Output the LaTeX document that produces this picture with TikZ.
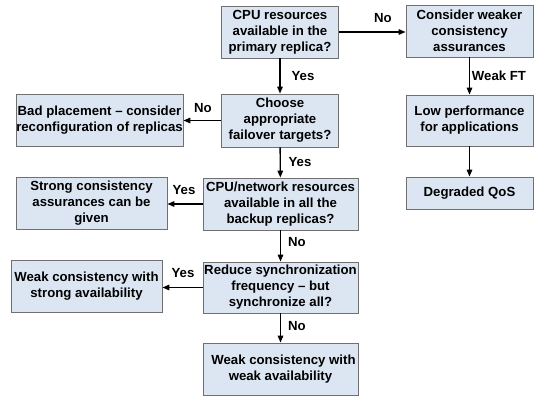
\documentclass[tikz,border=0pt]{standalone}
\usepackage{fontspec}
\setmainfont{Liberation Sans}
\usetikzlibrary{arrows.meta}
\definecolor{boxfill}{HTML}{DCE6F2}
\definecolor{boxdraw}{HTML}{707070}
\begin{document}
\begin{tikzpicture}[x=1pt,y=-1pt,
  box/.style={draw=boxdraw,fill=boxfill,line width=0.8pt,rectangle,align=center,inner sep=0pt,
    font=\fontsize{13.2}{16}\selectfont\bfseries},
  conn/.style={line width=1.4pt,-{Triangle[length=7pt,width=5.5pt]}},
  lab/.style={font=\fontsize{13.2}{15}\selectfont\bfseries,inner sep=0pt}]
\useasboundingbox (0,0) rectangle (536,396);
\node[box,minimum width=117pt,minimum height=52pt] (A) at (280,32) {CPU resources\\available in the\\primary replica?};
\node[box,minimum width=127pt,minimum height=52pt] (C) at (469.5,31) {Consider weaker\\consistency\\assurances};
\node[box,minimum width=117pt,minimum height=53pt] (B) at (280,120.5) {Choose\\appropriate\\failover targets?};
\node[box,minimum width=127pt,minimum height=51pt] (L) at (469.5,120.5) {Low performance\\for applications};
\node[box,minimum width=127pt,minimum height=32pt] (D) at (469.5,193) {Degraded QoS};
\node[box,minimum width=167pt,minimum height=52pt] (P) at (99.5,120) {Bad placement -- consider\\reconfiguration of replicas};
\node[box,minimum width=155pt,minimum height=52pt] (N) at (280.5,204) {CPU/network resources\\available in all the\\backup replicas?};
\node[box,minimum width=151pt,minimum height=52pt] (S) at (91.5,203) {Strong consistency\\assurances can be\\given};
\node[box,minimum width=155pt,minimum height=51pt] (R) at (280.5,287.5) {Reduce synchronization\\frequency -- but\\synchronize all?};
\node[box,minimum width=151pt,minimum height=52pt] (W) at (86.5,286) {Weak consistency with\\strong availability};
\node[box,minimum width=155pt,minimum height=52pt] (X) at (280.5,369) {\hspace*{6pt}Weak consistency with\\weak availability};
\draw[conn] (A.east) -- (C.west |- A.east);
\draw[conn] (A) -- (B);
\draw[conn] (C) -- (L);
\draw[conn] (L) -- (D);
\draw[conn] (B.west) -- (P.east |- B.west);
\draw[conn] (B) -- (N);
\draw[conn] (N.west) -- (S.east |- N.west);
\draw[conn] (N) -- (R);
\draw[conn] (R.west) -- (W.east |- R.west);
\draw[conn] (R) -- (X);
\node[lab] (l1) at (383,18) {No};
\node[lab] (l2) at (303,76) {Yes};
\node[lab] (l3) at (499,76) {Weak FT};
\node[lab] (l4) at (203,108) {No};
\node[lab] (l5) at (300,162) {Yes};
\node[lab] (l6) at (184,190) {Yes};
\node[lab] (l7) at (297,242) {No};
\node[lab] (l8) at (183,273) {Yes};
\node[lab] (l9) at (297,326) {No};
\end{tikzpicture}
\end{document}
